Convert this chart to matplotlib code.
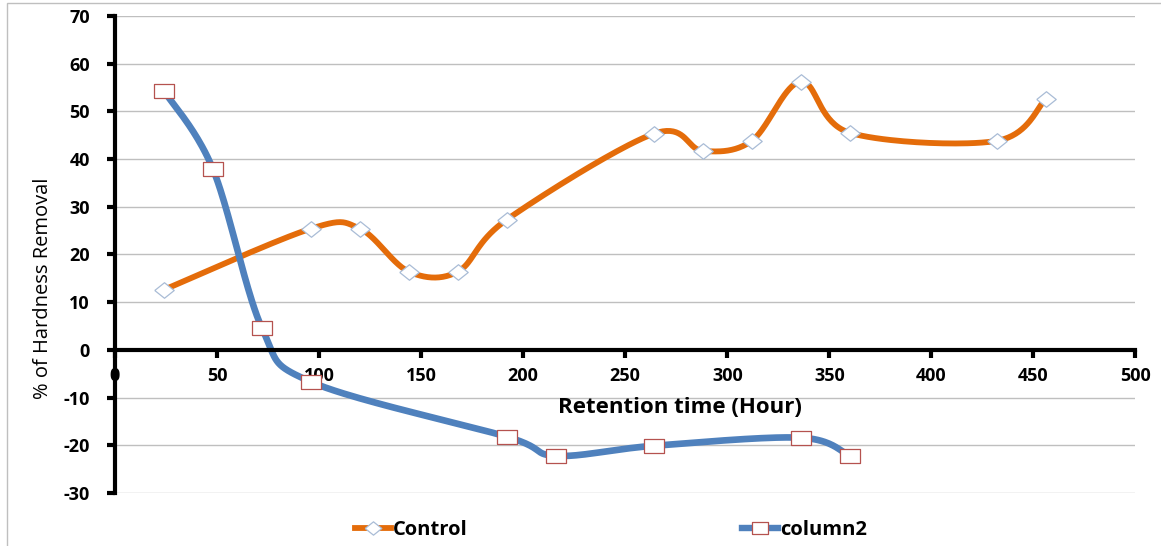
import numpy as np
import matplotlib
matplotlib.use("Agg")
import matplotlib.pyplot as plt
from matplotlib.patches import Rectangle
from matplotlib.lines import Line2D

# Series values
control_hours = [24, 96, 120, 144, 168, 192, 264, 288, 312, 336, 360, 432, 456]
control_removal = [12.6, 25.4, 25.4, 16.4, 16.4, 27.3, 45.3, 41.7, 43.8, 56.2, 45.5, 43.8, 52.6]

column2_hours = [24, 48, 72, 96, 192, 216, 264, 336, 360]
column2_removal = [54.3, 37.9, 4.6, -6.7, -18.2, -22.2, -20.1, -18.4, -22.2]

x_ticks = [0, 50, 100, 150, 200, 250, 300, 350, 400, 450, 500]
y_ticks = [-30, -20, -10, 0, 10, 20, 30, 40, 50, 60, 70]

ORANGE = "#E46C0A"
BLUE = "#4F81BD"
SQUARE_EDGE = "#B5524F"
DIAMOND_EDGE = "#A9BCD6"

FONT = "Open Sans"


def smooth(xs, ys, n=40):
    """Catmull-Rom style Bezier smoothing through every point."""
    p = np.column_stack([xs, ys]).astype(float)
    ext = np.vstack([p[0], p, p[-1]])
    out = [p[:1]]
    t = np.linspace(0, 1, n)[1:, None]
    for i in range(1, len(ext) - 2):
        p0, p1, p2, p3 = ext[i - 1], ext[i], ext[i + 1], ext[i + 2]
        c1 = p1 + (p2 - p0) / 6.0
        c2 = p2 - (p3 - p1) / 6.0
        seg = ((1 - t) ** 3) * p1 + 3 * ((1 - t) ** 2) * t * c1 \
            + 3 * (1 - t) * t ** 2 * c2 + t ** 3 * p2
        out.append(seg)
    curve = np.vstack(out)
    return curve[:, 0], curve[:, 1]


fig = plt.figure(figsize=(11.61, 5.46), dpi=100)
ax = fig.add_axes([0.099, 0.097, 0.879, 0.874])

# outer frame of the chart area
fig.patches.append(Rectangle((0.006, -0.01), 1.0, 1.005, transform=fig.transFigure,
                             fill=False, edgecolor="#BFBFBF", linewidth=1.0))

ax.set_xlim(0, 500)
ax.set_ylim(-30, 70)

for yv in y_ticks:
    if yv != 0:
        ax.axhline(yv, color="#BFBFBF", linewidth=1.0, zorder=0)

# smoothed lines
cx, cy = smooth(control_hours, control_removal)
ax.plot(cx, cy, color=ORANGE, linewidth=4.2, solid_capstyle="butt", zorder=3)
bx, by = smooth(column2_hours, column2_removal)
ax.plot(bx, by, color=BLUE, linewidth=4.8, solid_capstyle="butt", zorder=3)

rect_marker = [(-1.5, -1), (1.5, -1), (1.5, 1), (-1.5, 1), (-1.5, -1)]
diamond_marker = [(-1.25, 0), (0, 1), (1.25, 0), (0, -1), (-1.25, 0)]

ax.plot(control_hours, control_removal, linestyle="none", marker=diamond_marker, markersize=14,
        markerfacecolor="white", markeredgecolor=DIAMOND_EDGE, markeredgewidth=0.9, zorder=4)
ax.plot(column2_hours, column2_removal, linestyle="none", marker=rect_marker, markersize=15,
        markerfacecolor="white", markeredgecolor=SQUARE_EDGE, markeredgewidth=0.9, zorder=4)

# axes styling
for side in ["top", "right"]:
    ax.spines[side].set_visible(False)
ax.spines["left"].set_linewidth(3.0)
ax.spines["bottom"].set_linewidth(3.0)
ax.spines["bottom"].set_position(("data", 0))
ax.spines["left"].set_zorder(5)
ax.spines["bottom"].set_zorder(5)

ax.set_xticks(x_ticks)
ax.set_yticks(y_ticks)
ax.set_xticklabels([str(v) for v in x_ticks], fontfamily=FONT, fontweight="bold", fontsize=13)
ax.set_yticklabels([str(v) for v in y_ticks], fontfamily=FONT, fontweight="bold", fontsize=13)
ax.tick_params(axis="both", direction="out", length=6, width=3, color="black")
ax.tick_params(axis="y", pad=12)
ax.tick_params(axis="x", pad=6)

ax.set_ylabel("% of Hardness Removal", fontfamily=FONT, fontsize=14.5)
ax.yaxis.set_label_coords(-0.061, 0.43)
ax.text(277, -12, "Retention time (Hour)", ha="center", va="center",
        fontfamily=FONT, fontweight="bold", fontsize=16)

handles = [
    Line2D([], [], color=ORANGE, linewidth=4.2, marker=diamond_marker, markersize=12,
           markerfacecolor="white", markeredgecolor=DIAMOND_EDGE, markeredgewidth=0.9),
    Line2D([], [], color=BLUE, linewidth=4.6, marker=rect_marker, markersize=12,
           markerfacecolor="white", markeredgecolor=SQUARE_EDGE, markeredgewidth=0.9),
]
fig.legend(handles, ["Control", "column2"], loc="center", bbox_to_anchor=(0.526, 0.029),
           ncol=2, frameon=False, handlelength=1.8, handletextpad=0.1, columnspacing=13.6,
           prop={"family": FONT, "weight": "bold", "size": 14.5})

fig.savefig("out.png", dpi=100, facecolor="white")
